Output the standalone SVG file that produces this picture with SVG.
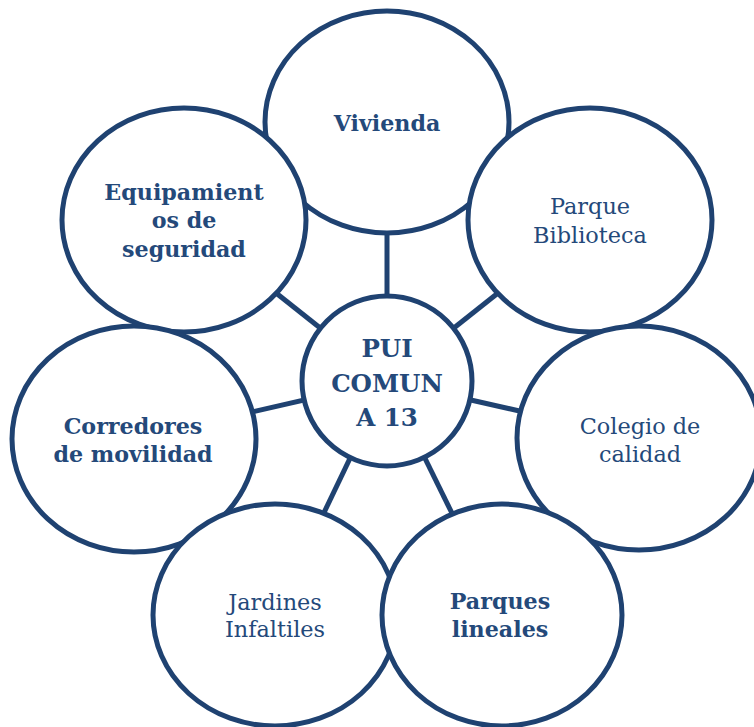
<svg xmlns="http://www.w3.org/2000/svg" width="754" height="727" viewBox="0 0 754 727">
<style>
.c{fill:#fff;stroke:#1F4271;stroke-width:5}
.l{stroke:#1F4271;stroke-width:5}
text{font-family:"DejaVu Serif","Liberation Serif",serif;fill:#24497A;text-anchor:middle}
.b{font-weight:bold;font-size:22.2px}
.r{font-size:22.4px}
.big{font-weight:bold;font-size:24.5px}
</style>
<rect width="754" height="727" fill="#fff"/>
<g id="connectors">
<line class="l" x1="387" y1="381" x2="387" y2="122"/>
<line class="l" x1="387" y1="381" x2="590" y2="220"/>
<line class="l" x1="387" y1="381" x2="639" y2="438"/>
<line class="l" x1="387" y1="381" x2="502" y2="615"/>
<line class="l" x1="387" y1="381" x2="275" y2="615"/>
<line class="l" x1="387" y1="381" x2="134" y2="439"/>
<line class="l" x1="387" y1="381" x2="184" y2="220"/>
</g>
<g id="vivienda">
<ellipse class="c" cx="387" cy="122" rx="122" ry="111"/>
<text class="b" x="387" y="131">Vivienda</text>
</g>
<g id="parque-biblioteca">
<ellipse class="c" cx="590" cy="220" rx="122" ry="112"/>
<text class="r" x="590" y="214">Parque</text>
<text class="r" x="590" y="243">Biblioteca</text>
</g>
<g id="colegio">
<ellipse class="c" cx="639" cy="438" rx="122" ry="112"/>
<text class="r" x="640" y="434">Colegio de</text>
<text class="r" x="640" y="462">calidad</text>
</g>
<g id="equipamientos">
<ellipse class="c" cx="184" cy="220" rx="122" ry="112"/>
<text class="b" x="184" y="200">Equipamient</text>
<text class="b" x="184" y="228">os de</text>
<text class="b" x="184" y="257">seguridad</text>
</g>
<g id="corredores">
<ellipse class="c" cx="134" cy="439" rx="122" ry="113"/>
<text class="b" x="133" y="434">Corredores</text>
<text class="b" x="133" y="462">de movilidad</text>
</g>
<g id="jardines">
<ellipse class="c" cx="275" cy="615" rx="122" ry="111"/>
<text class="r" x="275" y="610">Jardines</text>
<text class="r" x="275" y="637">Infaltiles</text>
</g>
<g id="parques-lineales">
<ellipse class="c" cx="502" cy="615" rx="120" ry="111"/>
<text class="b" x="500" y="609">Parques</text>
<text class="b" x="500" y="637">lineales</text>
</g>
<g id="pui">
<circle class="c" cx="387" cy="381" r="85"/>
<text class="big" x="387" y="357">PUI</text>
<text class="big" x="387" y="392">COMUN</text>
<text class="big" x="387" y="426">A 13</text>
</g>
</svg>
